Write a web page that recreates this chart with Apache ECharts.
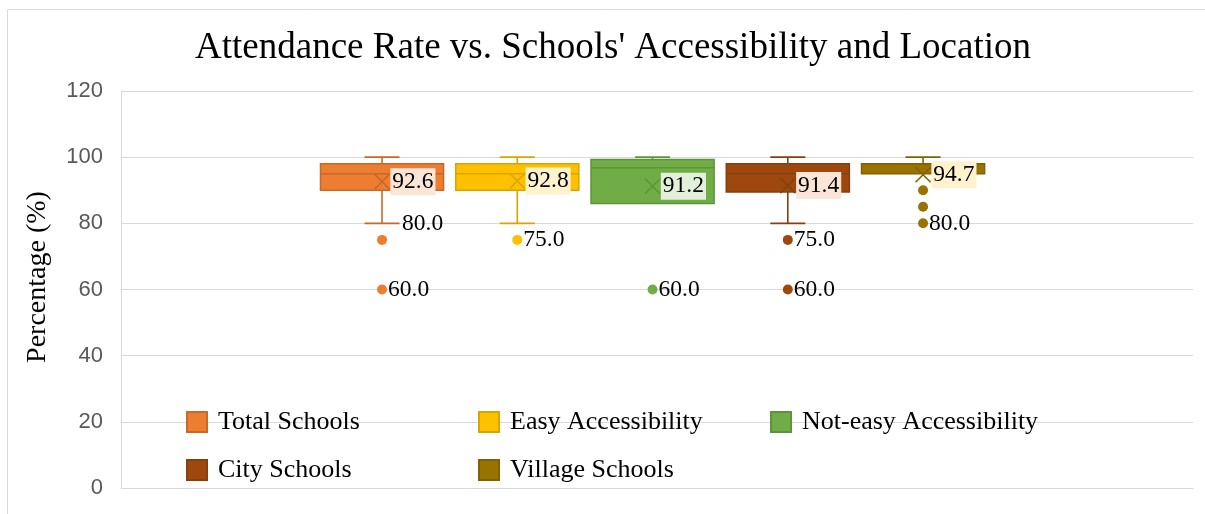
<!DOCTYPE html>
<html><head><meta charset="utf-8">
<script src="https://cdn.jsdelivr.net/npm/echarts@6/dist/echarts.min.js"></script>
<style>html,body{margin:0;padding:0;background:#fff}#c{width:1205px;height:514px}</style>
</head><body><div id="c"></div><script>
const categories = ['Total Schools', 'Easy Accessibility', 'Not-easy Accessibility', 'City Schools', 'Village Schools'];
const whiskerLow = [80, 80, 86, 80, 95];
const q1 = [90, 90, 86, 89.5, 95];
const median = [95, 95, 96.8, 95, 98];
const q3 = [98, 98, 99.3, 98, 98];
const whiskerHigh = [100, 100, 100, 100, 100];
const means = [92.6, 92.8, 91.2, 91.4, 94.7];
const outliers = [[75, 60], [75], [60], [75, 60], [90, 85, 80]];
const outlierLabeled = [[false, true], [true], [true], [true, true], [false, false, true]];
const whiskerLowLabeled = [true, false, false, false, false];
const yMin = 0, yMax = 120, yStep = 20;

const fills = ['#ED7D31', '#FFC000', '#70AD47', '#9E480E', '#997300'];
const borders = ['#C8692A', '#D9A300', '#5E9439', '#86400F', '#826200'];
const labelBgs = ['#FBE5D6', '#FFF2CC', '#E2F0D9', '#FBE5D6', '#FFF2CC'];

const serif = 'Liberation Serif';
const chart = echarts.init(document.getElementById('c'));

const boxSeries = categories.map((name, i) => ({
  name: name,
  type: 'custom',
  xAxisIndex: 1, yAxisIndex: 1,
  itemStyle: { color: fills[i], borderColor: borders[i], borderWidth: 1 },
  encode: { x: 0, y: [1, 2, 3, 4, 5] },
  data: [[i, whiskerLow[i], q1[i], median[i], q3[i], whiskerHigh[i]]],
  z: 2,
  renderItem: function (params, api) {
    const c = api.value(0);
    const pLow = api.coord([c, api.value(1)]);
    const pQ1 = api.coord([c, api.value(2)]);
    const pMed = api.coord([c, api.value(3)]);
    const pQ3 = api.coord([c, api.value(4)]);
    const pHigh = api.coord([c, api.value(5)]);
    const band = api.size([1, 0])[0];
    const bw = band * 0.91;
    const cw = 35;
    const cx = pMed[0];
    const ls = { stroke: borders[i], lineWidth: 1.6, fill: null };
    const ch = [];
    if (pHigh[1] < pQ3[1] - 0.1) {
      ch.push({ type: 'line', shape: { x1: cx, y1: pQ3[1], x2: cx, y2: pHigh[1] }, style: ls });
    }
    ch.push({ type: 'line', shape: { x1: cx - cw / 2, y1: pHigh[1], x2: cx + cw / 2, y2: pHigh[1] }, style: ls });
    if (pLow[1] > pQ1[1] + 0.1) {
      ch.push({ type: 'line', shape: { x1: cx, y1: pQ1[1], x2: cx, y2: pLow[1] }, style: ls });
      ch.push({ type: 'line', shape: { x1: cx - cw / 2, y1: pLow[1], x2: cx + cw / 2, y2: pLow[1] }, style: ls });
    }
    ch.push({ type: 'rect', shape: { x: cx - bw / 2, y: pQ3[1], width: bw, height: pQ1[1] - pQ3[1] },
      style: { fill: fills[i], stroke: borders[i], lineWidth: 1.5 } });
    ch.push({ type: 'line', shape: { x1: cx - bw / 2, y1: pMed[1], x2: cx + bw / 2, y2: pMed[1] }, style: ls });
    return { type: 'group', children: ch };
  }
}));

const meanData = means.map((m, i) => ({
  value: [i, m],
  itemStyle: { borderColor: borders[i] },
  label: { backgroundColor: labelBgs[i] }
}));

const outlierData = [];
outliers.forEach((arr, i) => arr.forEach((v, k) => outlierData.push({
  value: [i, v],
  itemStyle: { color: fills[i] },
  label: { show: outlierLabeled[i][k] }
})));

const whiskerLabelData = [];
whiskerLow.forEach((v, i) => { if (whiskerLowLabeled[i]) whiskerLabelData.push([i, v]); });

const legendPos = [[186, 408], [478, 408], [770, 408], [186, 456], [478, 456]];
const legends = categories.map((name, i) => ({
  data: [name],
  left: legendPos[i][0], top: legendPos[i][1],
  padding: 0,
  itemWidth: 20, itemHeight: 20,
  icon: 'rect',
  selectedMode: false,
  textStyle: { fontFamily: serif, fontSize: 26, color: '#000', padding: [0, 0, 0, 6], lineHeight: 28 }
}));

chart.setOption({
  animation: false,
  backgroundColor: '#fff',
  title: {
    text: "Attendance Rate vs. Schools' Accessibility and Location",
    left: 608, top: 25, textAlign: 'center',
    textStyle: { fontFamily: serif, fontSize: 37, fontWeight: 'normal', color: '#000' }
  },
  legend: legends,
  graphic: [
    { type: 'rect', shape: { x: 7.5, y: 9.5, width: 1300, height: 600 }, style: { fill: null, stroke: '#D9D9D9', lineWidth: 1 }, silent: true },
    { type: 'text', x: 38, y: 277, rotation: Math.PI / 2,
      style: { text: 'Percentage (%)', fontFamily: serif, fontSize: 28, fill: '#000', textAlign: 'center', textVerticalAlign: 'middle' } }
  ],
  grid: [
    { left: 121, right: 12, top: 91, bottom: 26 },
    { left: 314.4, right: 214.3, top: 91, bottom: 26 }
  ],
  xAxis: [
    { type: 'category', gridIndex: 0, data: [''], axisLine: { show: true, lineStyle: { color: '#D9D9D9' } },
      axisTick: { show: false }, axisLabel: { show: false }, splitLine: { show: false } },
    { type: 'category', gridIndex: 1, data: categories, show: false, boundaryGap: true }
  ],
  yAxis: [
    { type: 'value', gridIndex: 0, min: yMin, max: yMax, interval: yStep,
      axisLine: { show: true, lineStyle: { color: '#D9D9D9' } }, axisTick: { show: false },
      axisLabel: { fontFamily: 'Liberation Sans', fontSize: 22, color: '#595959', margin: 18 },
      splitLine: { lineStyle: { color: '#D9D9D9', width: 1 } } },
    { type: 'value', gridIndex: 1, min: yMin, max: yMax, show: false, splitLine: { show: false } }
  ],
  series: boxSeries.concat([
    {
      name: 'Outliers', type: 'scatter', xAxisIndex: 1, yAxisIndex: 1, z: 4,
      symbol: 'circle', symbolSize: 10,
      itemStyle: { opacity: 1 },
      data: outlierData,
      label: { position: 'right', distance: 1, fontFamily: serif, fontSize: 23.5, color: '#000',
        formatter: p => p.value[1].toFixed(1) }
    },
    {
      name: 'WhiskerLabels', type: 'scatter', xAxisIndex: 1, yAxisIndex: 1, z: 4,
      symbolSize: 0.01,
      itemStyle: { opacity: 1, color: '#000' },
      data: whiskerLabelData,
      label: { show: true, position: 'right', distance: 20, fontFamily: serif, fontSize: 23.5, color: '#000',
        formatter: p => p.value[1].toFixed(1) }
    },
    {
      name: 'Mean', type: 'scatter', xAxisIndex: 1, yAxisIndex: 1, z: 5,
      symbol: 'path://M0,0L10,10M10,0L0,10', symbolSize: [15, 15],
      itemStyle: { color: 'rgba(0,0,0,0)', borderWidth: 1.6, opacity: 1 },
      data: meanData,
      label: { show: true, position: 'right', distance: 0, fontFamily: serif, fontSize: 23.5, color: '#000',
        padding: [3, 2, 0, 2],
        formatter: p => p.value[1].toFixed(1) }
    }
  ])
});
</script></body></html>
